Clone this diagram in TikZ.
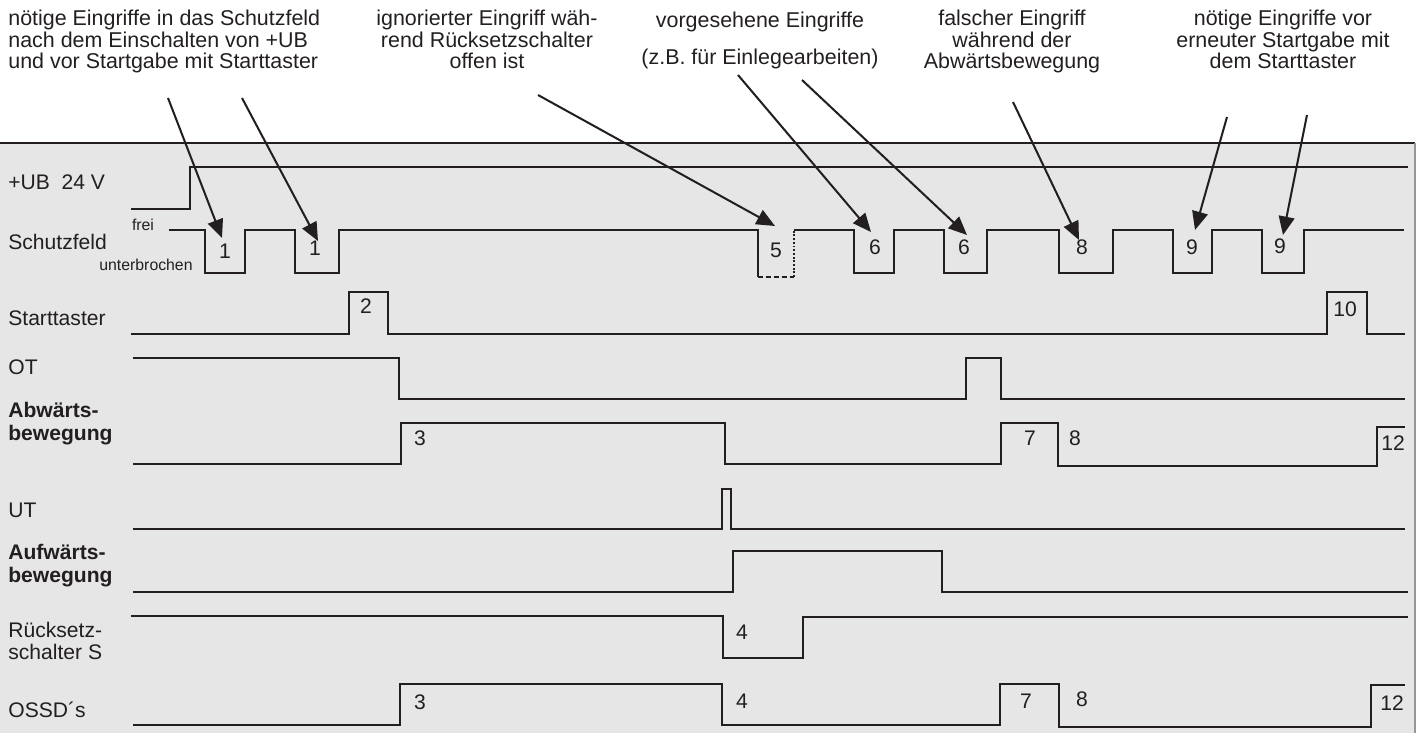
\documentclass[tikz,border=0pt]{standalone}
\usepackage{fontspec}
\setmainfont{Liberation Sans}
\usepackage{tikz}
\usetikzlibrary{arrows.meta}
\definecolor{ink}{RGB}{35,31,32}
\definecolor{panel}{RGB}{230,230,230}
\definecolor{rim}{RGB}{150,150,150}

\begin{document}
\begin{tikzpicture}[
  x=0.02cm, y=-0.02cm,
  sig/.style={draw=ink, line width=1.1pt},
  note/.style={font=\fontsize{12.2}{12.4}\selectfont, color=ink, inner sep=0pt, anchor=base},
  lbl/.style={font=\fontsize{12}{13}\selectfont, color=ink, inner sep=0pt, anchor=west, align=left},
  num/.style={font=\fontsize{12}{12}\selectfont, color=ink, inner sep=0pt},
  small/.style={font=\fontsize{9}{9}\selectfont, color=ink, inner sep=0pt},
  pointer/.style={draw=ink, line width=1.15pt, -{Triangle[length=10.5pt,width=9pt]}},
]
  \useasboundingbox (0,0) rectangle (1418,733);
  \fill[panel] (0,143) rectangle (1415,733);
  \draw[ink, line width=0.8pt] (0,143) -- (1415,143);
  \draw[rim, line width=0.8pt] (1415,143) -- (1415,733);

  % notes above the panel (anchored at the last baseline)
  \node[note, anchor=base west, align=left] (noteStart) at (8,69)
    {nötige Eingriffe in das Schutzfeld\\nach dem Einschalten von +UB\\und vor Startgabe mit Starttaster};
  \node[note, align=center] (noteReset) at (487,69)
    {ignorierter Eingriff wäh-\\rend Rücksetzschalter\\offen ist};
  \node[note, align=center] (notePlanned) at (760,65)
    {vorgesehene Eingriffe\\[9pt](z.B. für Einlegearbeiten)};
  \node[note, align=center] (noteWrong) at (1012,69)
    {falscher Eingriff\\während der\\Abwärtsbewegung};
  \node[note, align=center] (noteRestart) at (1283,69)
    {nötige Eingriffe vor\\erneuter Startgabe mit\\dem Starttaster};

  % signal names
  \node[lbl] (lUB) at (8,182) {+UB~~24 V};
  \node[lbl] (lField) at (8,242) {Schutzfeld};
  \node[lbl] (lStart) at (8,318) {Starttaster};
  \node[lbl] (lOT) at (8,367) {OT};
  \node[lbl, font=\fontsize{12}{13}\selectfont\bfseries] (lDown) at (8,424) {Abwärts-\\bewegung};
  \node[lbl] (lUT) at (8,510) {UT};
  \node[lbl, font=\fontsize{12}{13}\selectfont\bfseries] (lUp) at (8,566) {Aufwärts-\\bewegung};
  \node[lbl] (lReset) at (8,641) {Rücksetz-\\schalter S};
  \node[lbl] (lOSSD) at (8,710) {OSSD´s};
  \node[small] (lFree) at (143,225) {frei};
  \node[small] (lBroken) at (146,265) {unterbrochen};

  % waveforms
  \draw[sig] (131,209) -- (190,209) -- (190,167) -- (1408,167);
  \draw[sig] (169,230) -- (205,230) -- (205,273) -- (245,273) -- (245,230) -- (295,230)
    -- (295,273) -- (339,273) -- (339,230) -- (758,230) -- (758,277);
  \draw[sig, dash pattern=on 3pt off 1.5pt] (758,277) -- (794,277);
  \draw[sig, densely dotted] (794,277) -- (794,230);
  \draw[sig] (794,230) -- (854,230) -- (854,273) -- (894,273) -- (894,230) -- (944,230)
    -- (944,273) -- (987,273) -- (987,230) -- (1059,230) -- (1059,273) -- (1113,273)
    -- (1113,230) -- (1173,230) -- (1173,273) -- (1212,273) -- (1212,230) -- (1262,230)
    -- (1262,273) -- (1304,273) -- (1304,230) -- (1404,230);
  \draw[sig] (131,334) -- (349,334) -- (349,292) -- (388,292) -- (388,334) -- (1327,334)
    -- (1327,292) -- (1367,292) -- (1367,334) -- (1405,334);
  \draw[sig] (133,358) -- (399,358) -- (399,399) -- (966,399) -- (966,358) -- (1001,358)
    -- (1001,399) -- (1405,399);
  \draw[sig] (133,464) -- (401,464) -- (401,423) -- (725,423) -- (725,464) -- (1001,464)
    -- (1001,423) -- (1058,423) -- (1058,466) -- (1377,466) -- (1377,427) -- (1405,427);
  \draw[sig] (133,529) -- (722,529) -- (722,489) -- (731,489) -- (731,529) -- (1405,529);
  \draw[sig] (133,592) -- (733,592) -- (733,551) -- (942,551) -- (942,592) -- (1408,592);
  \draw[sig] (131,616) -- (723,616) -- (723,658) -- (803,658) -- (803,617) -- (1408,617);
  \draw[sig] (133,725) -- (400,725) -- (400,684) -- (722,684) -- (722,725) -- (1000,725)
    -- (1000,684) -- (1059,684) -- (1059,727) -- (1371,727) -- (1371,685) -- (1405,685);

  % step numbers
  \node[num] (f1a) at (225,251) {1};
  \node[num] (f1b) at (315,248) {1};
  \node[num] (s2) at (366,306) {2};
  \node[num] (f5) at (776,250) {5};
  \node[num] (f6a) at (875,247) {6};
  \node[num] (f6b) at (964,247) {6};
  \node[num] (f8) at (1082,247) {8};
  \node[num] (f9a) at (1192,247) {9};
  \node[num] (f9b) at (1280,246) {9};
  \node[num] (s10) at (1345,309) {10};
  \node[num] (d3) at (420,438) {3};
  \node[num] (d7) at (1030,438) {7};
  \node[num] (d8) at (1075,438) {8};
  \node[num] (d12) at (1393,443) {12};
  \node[num] (r4) at (742,632) {4};
  \node[num] (o3) at (420,702) {3};
  \node[num] (o4) at (742,701) {4};
  \node[num] (o7) at (1026,701) {7};
  \node[num] (o8) at (1082,699) {8};
  \node[num] (o12) at (1392,703) {12};

  % pointers from the notes to the interventions
  \coordinate (t1) at (168,98);   \coordinate (h1) at (222,238);
  \coordinate (t2) at (242,98);   \coordinate (h2) at (318,241);
  \coordinate (t3) at (538,95);   \coordinate (h3) at (775,226);
  \coordinate (t4) at (738,75);   \coordinate (h4) at (871,232);
  \coordinate (t5) at (802,80);   \coordinate (h5) at (967,235);
  \coordinate (t6) at (1013,102); \coordinate (h6) at (1079,240);
  \coordinate (t7) at (1227,117); \coordinate (h7) at (1195,230);
  \coordinate (t8) at (1307,115); \coordinate (h8) at (1283,235);
  \draw[pointer] (t1) -- (h1);
  \draw[pointer] (t2) -- (h2);
  \draw[pointer] (t3) -- (h3);
  \draw[pointer] (t4) -- (h4);
  \draw[pointer] (t5) -- (h5);
  \draw[pointer] (t6) -- (h6);
  \draw[pointer] (t7) -- (h7);
  \draw[pointer] (t8) -- (h8);
\end{tikzpicture}
\end{document}
